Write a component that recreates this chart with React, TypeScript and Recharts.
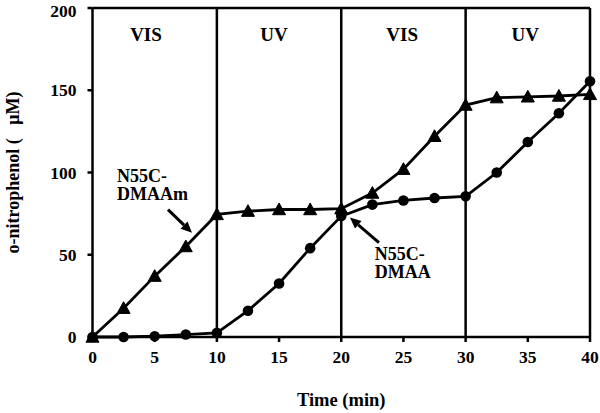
import React from 'react';
import { LineChart, Line, XAxis, YAxis, ReferenceLine, ReferenceDot, Label } from 'recharts';

const times = [0, 2.5, 5, 7.5, 10, 12.5, 15, 17.5, 20, 22.5, 25, 27.5, 30, 32.5, 35, 37.5, 40];
const dmaam = [0, 17.5, 37, 55, 74.5, 76.5, 77.5, 77.5, 78, 87.5, 102, 122, 141, 145.5, 146, 146.5, 147.5];
const dmaa = [0, 0, 0.5, 1.5, 2.5, 16, 32.5, 54, 73.5, 80.5, 83, 84.5, 85.5, 100, 118.5, 136, 155.5];
const xTicks = [0, 5, 10, 15, 20, 25, 30, 35, 40];
const yTicks = [0, 50, 100, 150, 200];
const phaseLines = [10, 20, 30];
const phaseLabels = [
  { x: 4.3, y: 180, text: 'VIS' },
  { x: 14.6, y: 180, text: 'UV' },
  { x: 24.9, y: 180, text: 'VIS' },
  { x: 34.8, y: 180, text: 'UV' },
];
const annotationLines = [
  { x: 1.97, y: 94.5, text: 'N55C-' },
  { x: 1.97, y: 83.5, text: 'DMAAm' },
  { x: 22.7, y: 47, text: 'N55C-' },
  { x: 22.7, y: 36, text: 'DMAA' },
];
const arrows = [
  { from: { x: 6.07, y: 77.4 }, to: { x: 8.0, y: 63.4 } },
  { from: { x: 23.03, y: 57.3 }, to: { x: 20.7, y: 72.6 } },
];
const yLabel = 'o-nitrophenol (\u00a0\u00a0\u00a0μM)';
const xLabel = 'Time (min)';

const data = times.map((t, i) => ({ t, dmaam: dmaam[i], dmaa: dmaa[i] }));

const FONT = '"Liberation Serif", "Times New Roman", serif';
const textStyle = { fill: '#000', fontWeight: 'bold', fontFamily: FONT } as const;

const Triangle = (props: any) => {
  const { cx, cy, index } = props;
  if (cx == null || cy == null) return <g key={`tri-${index}`} />;
  const s = 6.5;
  return (
    <polygon
      key={`tri-${index}`}
      points={`${cx},${cy - s} ${cx - s},${cy + s * 0.8} ${cx + s},${cy + s * 0.8}`}
      fill="#000"
      stroke="#000"
    />
  );
};

const Circle = (props: any) => {
  const { cx, cy, index } = props;
  if (cx == null || cy == null) return <g key={`cir-${index}`} />;
  return <circle key={`cir-${index}`} cx={cx} cy={cy} r={5.3} fill="#000" />;
};

const ArrowShape = (props: any) => {
  const { x1, y1, x2, y2 } = props;
  if ([x1, y1, x2, y2].some((v) => v == null || isNaN(v))) return <g />;
  const dx = x2 - x1;
  const dy = y2 - y1;
  const len = Math.sqrt(dx * dx + dy * dy);
  const ux = dx / len;
  const uy = dy / len;
  const hl = 11;
  const hw = 5;
  const bx = x2 - ux * hl;
  const by = y2 - uy * hl;
  const px = -uy;
  const py = ux;
  return (
    <g>
      <line x1={x1} y1={y1} x2={bx} y2={by} stroke="#000" strokeWidth={3} />
      <polygon
        points={`${x2},${y2} ${bx + px * hw},${by + py * hw} ${bx - px * hw},${by - py * hw}`}
        fill="#000"
      />
    </g>
  );
};

export default function App() {
  return (
    <div style={{ position: 'absolute', left: 0, top: 0, background: '#fff' }}>
      <LineChart
        width={600}
        height={413}
        data={data}
        margin={{ top: 8, right: 10, bottom: 0, left: 0 }}
      >
        <XAxis
          dataKey="t"
          type="number"
          domain={[0, 40]}
          ticks={xTicks}
          axisLine={{ stroke: '#000', strokeWidth: 2.5 }}
          tickLine={{ stroke: '#000', strokeWidth: 2.5 }}
          tickSize={5}
          tickMargin={9}
          tick={{ ...textStyle, fontSize: 17.5 }}
          height={76}
        >
          <Label
            content={(p: any) => {
              const vb = p.viewBox;
              return (
                <text x={vb.x + vb.width / 2} y={406} textAnchor="middle" {...textStyle} fontSize={18.5}>
                  {xLabel}
                </text>
              );
            }}
          />
        </XAxis>
        <YAxis
          type="number"
          domain={[0, 200]}
          ticks={yTicks}
          axisLine={{ stroke: '#000', strokeWidth: 2.5 }}
          tickLine={{ stroke: '#000', strokeWidth: 2.5 }}
          tickSize={5}
          tickMargin={11}
          tick={{ ...textStyle, fontSize: 17.5 }}
          width={92.5}
        >
          <Label
            content={(p: any) => {
              const vb = p.viewBox;
              const cy = vb.y + vb.height / 2;
              return (
                <text
                  x={19}
                  y={cy}
                  textAnchor="middle"
                  transform={`rotate(-90, 19, ${cy})`}
                  {...textStyle}
                  fontSize={18}
                >
                  {yLabel}
                </text>
              );
            }}
          />
        </YAxis>
        <ReferenceLine y={200} stroke="#000" strokeWidth={2.5} />
        <ReferenceLine x={40} stroke="#000" strokeWidth={2.5} />
        {phaseLines.map((x) => (
          <ReferenceLine key={`pl-${x}`} x={x} stroke="#000" strokeWidth={2.5} />
        ))}
        {phaseLabels.map((p, i) => (
          <ReferenceDot
            key={`ph-${i}`}
            x={p.x}
            y={p.y}
            r={0}
            shape={(s: any) => (
              <text x={s.cx} y={s.cy} textAnchor="middle" {...textStyle} fontSize={19}>
                {p.text}
              </text>
            )}
          />
        ))}
        {annotationLines.map((a, i) => (
          <ReferenceDot
            key={`an-${i}`}
            x={a.x}
            y={a.y}
            r={0}
            shape={(s: any) => (
              <text x={s.cx} y={s.cy} textAnchor="start" {...textStyle} fontSize={18}>
                {a.text}
              </text>
            )}
          />
        ))}
        {arrows.map((a, i) => (
          <ReferenceLine
            key={`ar-${i}`}
            segment={[a.from, a.to]}
            stroke="#000"
            shape={ArrowShape}
          />
        ))}
        <Line
          dataKey="dmaa"
          stroke="#000"
          strokeWidth={2.8}
          dot={Circle}
          isAnimationActive={false}
        />
        <Line
          dataKey="dmaam"
          stroke="#000"
          strokeWidth={2.8}
          dot={Triangle}
          isAnimationActive={false}
        />
      </LineChart>
    </div>
  );
}
